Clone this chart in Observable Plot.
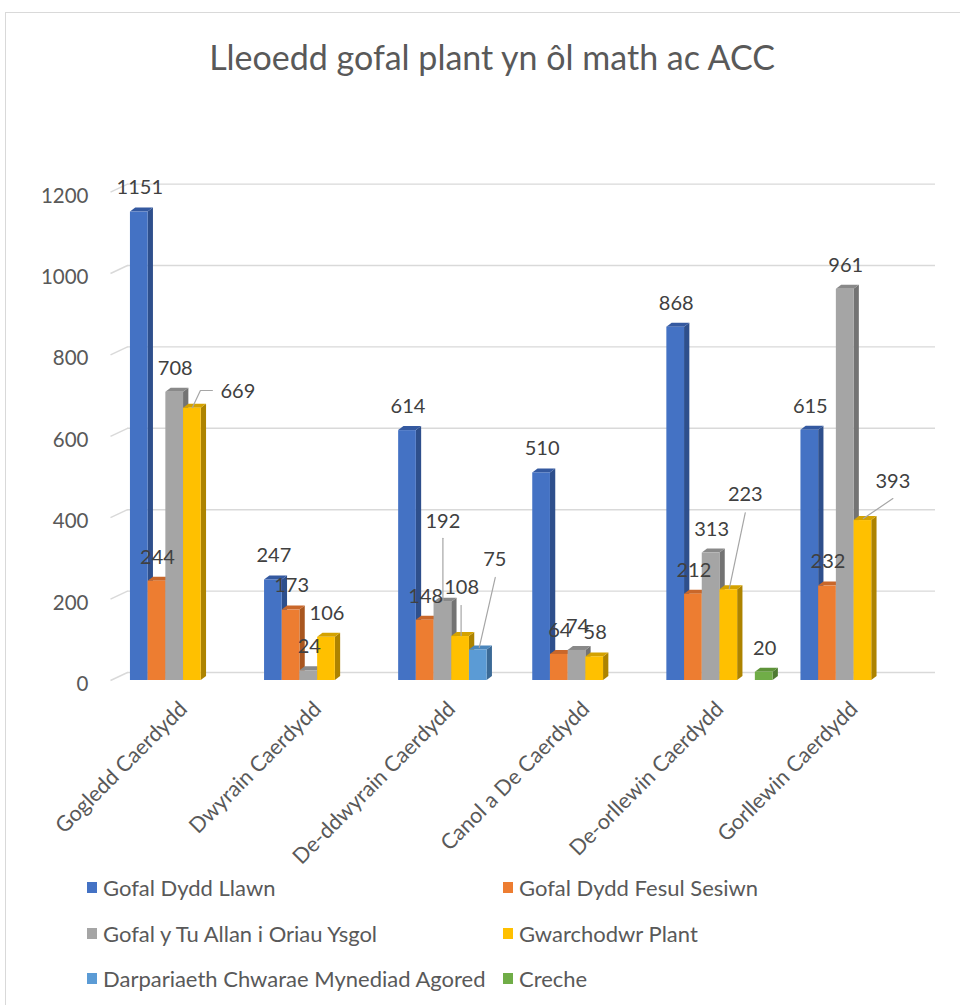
<!DOCTYPE html>
<html>
<head>
<meta charset="utf-8">
<script src="https://cdn.jsdelivr.net/npm/d3@7"></script>
<script src="https://cdn.jsdelivr.net/npm/@observablehq/plot@0.6"></script>
<style>
  html, body { margin: 0; padding: 0; background: #fff; }
  body { width: 960px; height: 1005px; overflow: hidden; position: relative; font-family: Lato, "Open Sans", sans-serif; }
  #frame { position: absolute; left: 5px; top: 12px; width: 1000px; height: 1100px; border: 1.5px solid #d9d9d9; box-sizing: border-box; }
  #title { position: absolute; left: 0; width: 984px; top: 37px; text-align: center; font-size: 34px; line-height: 40px; color: #595959; }
  #chart { position: absolute; left: 0; top: 100px; }
  #legend { position: absolute; left: 0; top: 0; width: 960px; }
  .item { position: absolute; display: flex; align-items: center; font-size: 22px; color: #595959; white-space: nowrap; height: 28px; }
  .sw { width: 10px; height: 11px; margin-right: 6px; flex: none; }
</style>
</head>
<body>
<div id="frame"></div>
<div id="title">Lleoedd gofal plant yn ôl math ac ACC</div>
<div id="chart"></div>
<div id="legend"></div>
<script>
// ---------- data ----------
const categories = ["Gogledd Caerdydd", "Dwyrain Caerdydd", "De-ddwyrain Caerdydd", "Canol a De Caerdydd", "De-orllewin Caerdydd", "Gorllewin Caerdydd"];
const series = ["Gofal Dydd Llawn", "Gofal Dydd Fesul Sesiwn", "Gofal y Tu Allan i Oriau Ysgol", "Gwarchodwr Plant", "Darpariaeth Chwarae Mynediad Agored", "Creche"];
const gofalDyddLlawn       = [1151, 247, 614, 510, 868, 615];
const gofalDyddFesulSesiwn = [244, 173, 148, 64, 212, 232];
const gofalTuAllan         = [708, 24, 192, 74, 313, 961];
const gwarchodwrPlant      = [669, 106, 108, 58, 223, 393];
const darpariaethChwarae   = [null, null, 75, null, null, null];
const creche               = [null, null, null, null, 20, null];
const yTicks = [0, 200, 400, 600, 800, 1000, 1200];

// ---------- styles ----------
const frontColors = ["#4472C4", "#ED7D31", "#A5A5A5", "#FFC000", "#5B9BD5", "#70AD47"];
const sideColors  = ["#2E4F8C", "#A9561F", "#737373", "#AD8300", "#3B6A96", "#4D7A31"];
const topColors   = ["#3459A0", "#C9672A", "#898989", "#D4A200", "#4B86BC", "#5E9339"];

// label placement tweaks (pixels, relative to the top-centre of the bar), with leader lines
const labelDefault = {dx: 0.5, dy: -24};
const labelTweaks = [
  {ci: 0, sj: 3, dx: 45.5, dy: -16.7, leader: [[0, -0.7], [8, -17.7], [20, -17.7]]},
  {ci: 2, sj: 2, dx: 0, dy: -81, leader: [[0, 0], [0, -64]]},
  {ci: 2, sj: 3, dx: 1, dy: -49, leader: [[0.5, -1], [0.5, -31]]},
  {ci: 2, sj: 4, dx: 16.5, dy: -90, leader: [[1, -2.5], [17, -72.5]]},
  {ci: 4, sj: 3, dx: 16.5, dy: -95, leader: [[0.5, -1], [16.5, -77]]},
  {ci: 5, sj: 3, dx: 30, dy: -39, leader: [[0.5, -2], [30, -22]]}
];

// ---------- layout ----------
const W = 960, H = 760;
const mL = 116, mR = 39.4, mT = 91.6, mB = 180;
const band = (W - mL - mR) / categories.length;       // px per category
const ppu = (H - mT - mB) / 1200;                      // px per value unit
const slot = 17.7 / band;                              // bar width in x units
const gap = (1 - series.length * slot) / 2;
const depthX = 5.3 / band, depthY = 4 / ppu;           // bar 3D depth
const wallDY = 8;                                      // back-wall offset (px)

const seriesValues = [gofalDyddLlawn, gofalDyddFesulSesiwn, gofalTuAllan, gwarchodwrPlant, darpariaethChwarae, creche];
const rows = [];
categories.forEach((c, ci) => seriesValues.forEach((vals, sj) => {
  const v = vals[ci];
  if (v != null) {
    const x1 = ci + gap + sj * slot;
    rows.push({category: c, ci, series: series[sj], sj, value: v, x1, x2: x1 + slot, cx: x1 + slot / 2, id: ci + "-" + sj});
  }
}));

const sidePts = [], topPts = [];
for (const r of rows) {
  const v = r.value;
  sidePts.push({id: r.id, sj: r.sj, x: r.x2, y1: 0, y2: v});
  sidePts.push({id: r.id, sj: r.sj, x: r.x2 + depthX, y1: depthY, y2: v + depthY});
  topPts.push({id: r.id, sj: r.sj, x: r.x1, y1: v, y2: v});
  topPts.push({id: r.id, sj: r.sj, x: r.x1 + depthX, y1: v, y2: v + depthY});
  topPts.push({id: r.id, sj: r.sj, x: r.x2, y1: v, y2: v + depthY});
  topPts.push({id: r.id, sj: r.sj, x: r.x2 + depthX, y1: v + depthY, y2: v + depthY});
}

const tweakOf = r => labelTweaks.find(t => t.ci === r.ci && t.sj === r.sj) || labelDefault;
const leaderPts = [];
for (const t of labelTweaks) {
  const r = rows.find(d => d.ci === t.ci && d.sj === t.sj);
  t.leader.forEach(([px, py]) => leaderPts.push({id: r.id, x: r.cx + px / band, y: r.value - py / ppu}));
}

const marks = [
  Plot.ruleY(yTicks, {y: d => d, dy: -wallDY, stroke: "#d9d9d9", strokeWidth: 1.4, insetLeft: 11, insetRight: -14.4}),
  Plot.link(yTicks, {x1: () => -6 / band, x2: () => 11 / band, y1: d => d, y2: d => d + wallDY / ppu, stroke: "#d9d9d9", strokeWidth: 1.4})
];
series.forEach((s, sj) => marks.push(Plot.areaY(sidePts.filter(p => p.sj === sj), {x: "x", y1: "y1", y2: "y2", z: "id", fill: sideColors[sj]})));
series.forEach((s, sj) => marks.push(Plot.areaY(topPts.filter(p => p.sj === sj), {x: "x", y1: "y1", y2: "y2", z: "id", fill: topColors[sj]})));
marks.push(Plot.rect(rows, {x1: "x1", x2: "x2", y1: () => 0, y2: "value", fill: "series"}));
marks.push(Plot.line(leaderPts, {x: "x", y: "y", z: "id", stroke: "#A6A6A6", strokeWidth: 1.2}));
marks.push(Plot.text(rows, {
  x: d => d.cx + tweakOf(d).dx / band,
  y: d => d.value - tweakOf(d).dy / ppu,
  text: d => String(d.value), fontSize: 20, fill: "#404040"
}));
marks.push(Plot.text(yTicks, {x: () => (88 - mL) / band, y: d => d - 4 / ppu, text: d => String(d), textAnchor: "end", fontSize: 20.5, fill: "#595959"}));
marks.push(Plot.text(categories, {x: (d, i) => i + 0.5, y: () => 0, dy: 25, text: d => d, rotate: -45, textAnchor: "end", fontSize: 21.5, fill: "#595959"}));

const chart = Plot.plot({
  width: W, height: H,
  marginLeft: mL, marginRight: mR, marginTop: mT, marginBottom: mB,
  x: {type: "linear", domain: [0, categories.length], axis: null},
  y: {domain: [0, 1200], axis: null},
  color: {domain: series, range: frontColors},
  style: {fontFamily: "Lato, 'Open Sans', sans-serif", background: "transparent", overflow: "visible"},
  marks
});
document.getElementById("chart").appendChild(chart);

// legend
const legend = document.getElementById("legend");
const colLeft = [87, 503], rowTop = [873, 919, 964];
series.forEach((s, i) => {
  const el = document.createElement("div");
  el.className = "item";
  el.style.left = colLeft[i % 2] + "px";
  el.style.top = rowTop[Math.floor(i / 2)] + "px";
  el.innerHTML = `<span class="sw" style="background:${frontColors[i]}"></span><span></span>`;
  el.lastChild.textContent = s;
  legend.appendChild(el);
});
</script>
</body>
</html>
